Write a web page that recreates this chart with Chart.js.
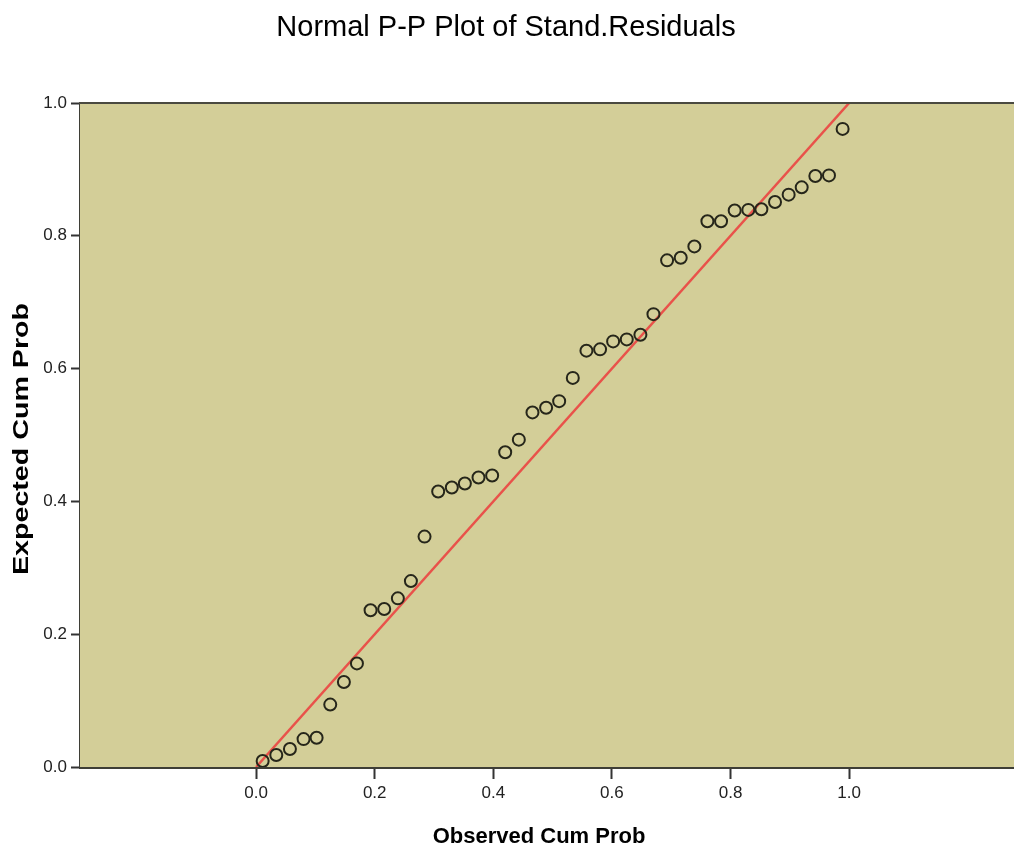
<!DOCTYPE html>
<html>
<head>
<meta charset="utf-8">
<script src="https://cdn.jsdelivr.net/npm/chart.js@4"></script>
<style>
  html, body { margin: 0; padding: 0; background: #fff; overflow: hidden; }
  #wrap { width: 1014px; height: 850px; }
</style>
</head>
<body>
<div id="wrap"><canvas id="pp"></canvas></div>
<script>
// observed cumulative probability (x)
var observed = [
  0.011, 0.034, 0.057, 0.080, 0.102, 0.125, 0.148, 0.170, 0.193, 0.216,
  0.239, 0.261, 0.284, 0.307, 0.330, 0.352, 0.375, 0.398, 0.420, 0.443,
  0.466, 0.489, 0.511, 0.534, 0.557, 0.580, 0.602, 0.625, 0.648, 0.670,
  0.693, 0.716, 0.739, 0.761, 0.784, 0.807, 0.830, 0.852, 0.875, 0.898,
  0.920, 0.943, 0.966, 0.989,
];

// expected cumulative probability (y)
var expected = [
  0.009, 0.018, 0.027, 0.042, 0.044, 0.094, 0.128, 0.156, 0.236, 0.238,
  0.254, 0.280, 0.347, 0.415, 0.421, 0.427, 0.436, 0.439, 0.474, 0.493,
  0.534, 0.541, 0.551, 0.586, 0.627, 0.629, 0.641, 0.644, 0.651, 0.682,
  0.763, 0.767, 0.784, 0.822, 0.822, 0.838, 0.839, 0.840, 0.851, 0.862,
  0.873, 0.890, 0.891, 0.961,
];

var refLine = [0, 1];
var xTicks = [0.0, 0.2, 0.4, 0.6, 0.8, 1.0];
var yTicks = [0.0, 0.2, 0.4, 0.6, 0.8, 1.0];

var titleText = "Normal P-P Plot of Stand.Residuals";
var xTitle = "Observed Cum Prob";
var yTitle = "Expected Cum Prob";

var points = observed.map(function (v, i) {
  return { x: v, y: expected[i] };
});
var linePts = refLine.map(function (v) {
  return { x: v, y: v };
});

var fontName = '"Liberation Sans", Arial, sans-serif';

// plot background, top border and the titles
var spssPlugin = {
  id: "spssLook",
  beforeDatasetsDraw: function (chart) {
    var a = chart.chartArea;
    var ctx = chart.ctx;
    ctx.save();
    ctx.fillStyle = "#d3ce98";
    ctx.fillRect(a.left, a.top, a.right - a.left, a.bottom - a.top);
    ctx.restore();
  },
  afterDraw: function (chart) {
    var a = chart.chartArea;
    var ctx = chart.ctx;
    ctx.save();
    ctx.strokeStyle = "#4a4a40";
    ctx.lineWidth = 2;
    ctx.beginPath();
    ctx.moveTo(a.left - 1, a.top);
    ctx.lineTo(a.right, a.top);
    ctx.stroke();

    ctx.fillStyle = "#000";
    ctx.textAlign = "center";
    ctx.textBaseline = "middle";
    ctx.font = "29px " + fontName;
    ctx.fillText(titleText, 506, 28);

    ctx.font = "bold 22px " + fontName;
    ctx.fillText(xTitle, 539, 837);

    ctx.translate(22, 439);
    ctx.rotate(-Math.PI / 2);
    var w = ctx.measureText(yTitle).width;
    ctx.scale(272 / w, 1);
    ctx.fillText(yTitle, 0, 0);
    ctx.restore();
  },
};

new Chart(document.getElementById("pp"), {
  type: "scatter",
  data: {
    datasets: [
      {
        type: "scatter",
        data: points,
        order: 1,
        pointStyle: "circle",
        pointRadius: 6,
        pointBorderWidth: 2,
        borderColor: "#26261a",
        backgroundColor: "rgba(0,0,0,0)",
      },
      {
        type: "line",
        data: linePts,
        order: 2,
        borderColor: "#e9524a",
        borderWidth: 2.5,
        pointRadius: 0,
        fill: false,
      },
    ],
  },
  options: {
    responsive: true,
    maintainAspectRatio: false,
    animation: false,
    layout: {
      autoPadding: false,
      padding: { top: 103, left: 0, right: 0, bottom: 0 },
    },
    plugins: {
      legend: { display: false },
      tooltip: { enabled: false },
      title: { display: false },
    },
    scales: {
      x: {
        type: "linear",
        min: -0.297,
        max: 1.278,
        afterBuildTicks: function (scale) {
          scale.ticks = xTicks.map(function (v) { return { value: v }; });
        },
        afterFit: function (scale) {
          scale.height = 83;
          scale.paddingLeft = 0;
          scale.paddingRight = 0;
        },
        grid: {
          drawOnChartArea: false,
          drawTicks: true,
          tickLength: 12,
          tickColor: "#333",
          tickWidth: 2,
        },
        border: { display: true, color: "#3e3e36", width: 3 },
        ticks: {
          padding: 4,
          color: "#222",
          font: { family: fontName, size: 17 },
          callback: function (v) { return Number(v).toFixed(1); },
        },
      },
      y: {
        type: "linear",
        min: 0,
        max: 1,
        afterBuildTicks: function (scale) {
          scale.ticks = yTicks.map(function (v) { return { value: v }; });
        },
        afterFit: function (scale) {
          scale.width = 80;
        },
        grid: {
          drawOnChartArea: false,
          drawTicks: true,
          tickLength: 9,
          tickColor: "#333",
          tickWidth: 2,
        },
        border: { display: true, color: "#3e3e36", width: 2 },
        ticks: {
          padding: 4,
          color: "#222",
          font: { family: fontName, size: 17 },
          callback: function (v) { return Number(v).toFixed(1); },
        },
      },
    },
  },
  plugins: [spssPlugin],
});
</script>
</body>
</html>
